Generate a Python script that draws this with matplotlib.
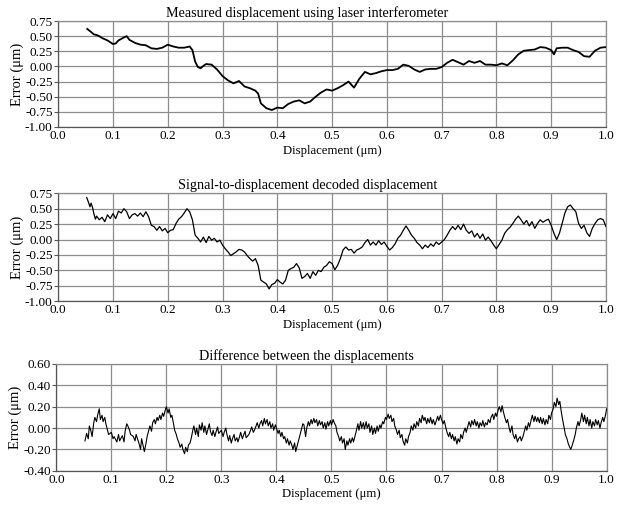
import matplotlib
matplotlib.use("Agg")
import matplotlib.pyplot as plt
import numpy as np

plt.rcParams['font.family'] = ['Liberation Serif', 'DejaVu Serif']

# --> Measured displacement (laser interferometer)
meas_x = [0.053, 0.06, 0.065, 0.07, 0.075, 0.08, 0.09, 0.1, 0.105, 0.11, 0.12, 0.125, 0.13,
          0.14, 0.15, 0.16, 0.17, 0.18, 0.19, 0.2, 0.21, 0.22, 0.23, 0.24, 0.245, 0.25, 0.255,
          0.26, 0.265, 0.27, 0.28, 0.29, 0.3, 0.31, 0.32, 0.33, 0.34, 0.35, 0.36, 0.365, 0.37,
          0.38, 0.39, 0.4, 0.41, 0.42, 0.43, 0.44, 0.45, 0.46, 0.47, 0.48, 0.49, 0.5, 0.51,
          0.52, 0.53, 0.54, 0.55, 0.56, 0.57, 0.58, 0.59, 0.6, 0.61, 0.62, 0.63, 0.64, 0.65,
          0.66, 0.67, 0.68, 0.69, 0.7, 0.71, 0.72, 0.73, 0.74, 0.75, 0.76, 0.77, 0.78, 0.79,
          0.8, 0.81, 0.82, 0.83, 0.84, 0.85, 0.86, 0.87, 0.88, 0.89, 0.9, 0.905, 0.91, 0.92,
          0.93, 0.94, 0.95, 0.96, 0.97, 0.98, 0.99, 1.0]
meas_y = [0.62, 0.57, 0.53, 0.52, 0.50, 0.47, 0.43, 0.37, 0.38, 0.43, 0.48, 0.50, 0.44,
          0.39, 0.36, 0.35, 0.30, 0.29, 0.31, 0.36, 0.33, 0.31, 0.31, 0.33, 0.27, 0.08, -0.01,
          -0.03, 0.01, 0.04, 0.03, -0.05, -0.16, -0.23, -0.28, -0.24, -0.33, -0.36, -0.40, -0.45, -0.61,
          -0.69, -0.72, -0.68, -0.69, -0.62, -0.58, -0.56, -0.61, -0.58, -0.50, -0.43, -0.38, -0.40, -0.36,
          -0.31, -0.25, -0.35, -0.20, -0.09, -0.13, -0.11, -0.08, -0.06, -0.06, -0.04, 0.03, 0.01, -0.05,
          -0.09, -0.05, -0.04, -0.04, -0.01, 0.06, 0.11, 0.07, 0.03, 0.09, 0.06, 0.09, 0.03, 0.03,
          0.02, 0.05, 0.02, 0.10, 0.20, 0.26, 0.27, 0.28, 0.32, 0.31, 0.27, 0.20, 0.30, 0.31,
          0.31, 0.27, 0.24, 0.17, 0.16, 0.26, 0.31, 0.32]

# --> Signal-to-displacement decoded displacement
dec_x = [0.052, 0.055, 0.058, 0.06, 0.063, 0.065, 0.068, 0.07, 0.075, 0.08, 0.085, 0.09, 0.095,
         0.1, 0.105, 0.11, 0.115, 0.12, 0.125, 0.13, 0.135, 0.14, 0.145, 0.15, 0.155, 0.16,
         0.165, 0.17, 0.175, 0.18, 0.185, 0.19, 0.195, 0.2, 0.205, 0.21, 0.215, 0.22, 0.225,
         0.23, 0.235, 0.24, 0.245, 0.25, 0.255, 0.26, 0.265, 0.27, 0.275, 0.28, 0.285, 0.29,
         0.295, 0.3, 0.305, 0.31, 0.315, 0.32, 0.325, 0.33, 0.335, 0.34, 0.345, 0.35, 0.355,
         0.36, 0.365, 0.37, 0.375, 0.38, 0.385, 0.39, 0.395, 0.4, 0.405, 0.41, 0.415, 0.42,
         0.425, 0.43, 0.435, 0.44, 0.445, 0.45, 0.455, 0.46, 0.465, 0.47, 0.475, 0.48, 0.485,
         0.49, 0.495, 0.5, 0.505, 0.51, 0.515, 0.52, 0.525, 0.53, 0.535, 0.54, 0.545, 0.55,
         0.555, 0.56, 0.565, 0.57, 0.575, 0.58, 0.585, 0.59, 0.595, 0.6, 0.605, 0.61, 0.615,
         0.62, 0.625, 0.63, 0.635, 0.64, 0.645, 0.65, 0.655, 0.66, 0.665, 0.67, 0.675, 0.68,
         0.685, 0.69, 0.695, 0.7, 0.705, 0.71, 0.715, 0.72, 0.725, 0.73, 0.735, 0.74, 0.745,
         0.75, 0.755, 0.76, 0.765, 0.77, 0.775, 0.78, 0.785, 0.79, 0.795, 0.8, 0.805, 0.81,
         0.815, 0.82, 0.825, 0.83, 0.835, 0.84, 0.845, 0.85, 0.855, 0.86, 0.865, 0.87, 0.875,
         0.88, 0.885, 0.89, 0.895, 0.9, 0.905, 0.91, 0.915, 0.92, 0.925, 0.93, 0.935, 0.94,
         0.945, 0.95, 0.955, 0.96, 0.965, 0.97, 0.975, 0.98, 0.985, 0.99, 0.995, 1.0]
dec_y = [0.68, 0.61, 0.53, 0.59, 0.51, 0.42, 0.33, 0.38, 0.32, 0.36, 0.29, 0.40, 0.34,
         0.42, 0.34, 0.46, 0.43, 0.50, 0.45, 0.34, 0.40, 0.42, 0.38, 0.43, 0.37, 0.45,
         0.37, 0.23, 0.21, 0.15, 0.21, 0.14, 0.18, 0.11, 0.15, 0.16, 0.26, 0.33, 0.37,
         0.43, 0.50, 0.45, 0.32, 0.07, 0.02, -0.04, 0.04, -0.05, 0.05, -0.01, 0.02, -0.04,
         -0.01, -0.09, -0.15, -0.20, -0.26, -0.23, -0.20, -0.16, -0.17, -0.20, -0.26, -0.31, -0.35,
         -0.31, -0.42, -0.66, -0.69, -0.72, -0.80, -0.73, -0.71, -0.65, -0.69, -0.72, -0.66, -0.50,
         -0.47, -0.45, -0.39, -0.46, -0.63, -0.60, -0.55, -0.63, -0.52, -0.58, -0.50, -0.52, -0.45,
         -0.42, -0.36, -0.39, -0.49, -0.42, -0.31, -0.17, -0.12, -0.17, -0.16, -0.22, -0.17, -0.15,
         -0.12, -0.05, 0.00, -0.09, -0.04, -0.09, -0.02, -0.08, -0.04, -0.11, -0.17, -0.13, -0.07,
         0.02, 0.07, 0.15, 0.22, 0.15, 0.07, 0.02, -0.05, -0.09, -0.15, -0.09, -0.13, -0.07,
         -0.11, -0.04, -0.08, -0.04, 0.00, 0.07, 0.15, 0.21, 0.16, 0.23, 0.16, 0.25, 0.15,
         0.10, 0.14, 0.04, 0.10, 0.02, 0.09, -0.01, 0.04, -0.02, -0.09, -0.15, -0.08, -0.01,
         0.10, 0.16, 0.20, 0.26, 0.33, 0.38, 0.32, 0.25, 0.31, 0.22, 0.29, 0.18, 0.26,
         0.32, 0.28, 0.31, 0.33, 0.23, 0.10, 0.00, 0.10, 0.26, 0.43, 0.53, 0.56, 0.50,
         0.45, 0.26, 0.18, 0.23, 0.11, 0.05, 0.18, 0.26, 0.32, 0.34, 0.32, 0.21]

# --> Difference between the displacements
diff_x = [0.052, 0.055, 0.058, 0.06, 0.063, 0.065, 0.068, 0.07, 0.073, 0.075, 0.078, 0.08,
          0.083, 0.085, 0.088, 0.09, 0.093, 0.095, 0.1, 0.103, 0.105, 0.11, 0.113, 0.115,
          0.12, 0.123, 0.125, 0.128, 0.13, 0.133, 0.135, 0.14, 0.143, 0.145, 0.15, 0.153,
          0.155, 0.158, 0.16, 0.163, 0.165, 0.168, 0.17, 0.173, 0.175, 0.178, 0.18, 0.183,
          0.185, 0.188, 0.19, 0.193, 0.195, 0.198, 0.2, 0.203, 0.205, 0.208, 0.21, 0.213,
          0.215, 0.218, 0.22, 0.223, 0.225, 0.228, 0.23, 0.233, 0.235, 0.238, 0.24, 0.243,
          0.245, 0.248, 0.25, 0.253, 0.255, 0.258, 0.26, 0.263, 0.265, 0.268, 0.27, 0.273,
          0.275, 0.278, 0.28, 0.283, 0.285, 0.288, 0.29, 0.293, 0.295, 0.3, 0.303, 0.305,
          0.308, 0.31, 0.313, 0.315, 0.318, 0.32, 0.323, 0.325, 0.328, 0.33, 0.333, 0.335,
          0.338, 0.34, 0.343, 0.345, 0.35, 0.353, 0.355, 0.358, 0.36, 0.363, 0.365, 0.368,
          0.37, 0.373, 0.375, 0.378, 0.38, 0.383, 0.385, 0.388, 0.39, 0.393, 0.395, 0.398,
          0.4, 0.403, 0.405, 0.408, 0.41, 0.413, 0.415, 0.418, 0.42, 0.423, 0.425, 0.428,
          0.43, 0.433, 0.435, 0.438, 0.44, 0.443, 0.445, 0.448, 0.45, 0.453, 0.455, 0.458,
          0.46, 0.463, 0.465, 0.468, 0.47, 0.473, 0.475, 0.478, 0.48, 0.483, 0.485, 0.488,
          0.49, 0.493, 0.495, 0.498, 0.5, 0.503, 0.505, 0.508, 0.51, 0.513, 0.515, 0.518,
          0.52, 0.523, 0.525, 0.528, 0.53, 0.533, 0.535, 0.538, 0.54, 0.543, 0.545, 0.548,
          0.55, 0.553, 0.555, 0.558, 0.56, 0.563, 0.565, 0.568, 0.57, 0.573, 0.575, 0.578,
          0.58, 0.583, 0.585, 0.588, 0.59, 0.593, 0.595, 0.598, 0.6, 0.603, 0.605, 0.608,
          0.61, 0.613, 0.615, 0.618, 0.62, 0.623, 0.625, 0.628, 0.63, 0.633, 0.635, 0.638,
          0.64, 0.643, 0.645, 0.648, 0.65, 0.653, 0.655, 0.658, 0.66, 0.663, 0.665, 0.668,
          0.67, 0.673, 0.675, 0.678, 0.68, 0.683, 0.685, 0.688, 0.69, 0.693, 0.695, 0.698,
          0.7, 0.703, 0.705, 0.708, 0.71, 0.713, 0.715, 0.718, 0.72, 0.723, 0.725, 0.728,
          0.73, 0.733, 0.735, 0.738, 0.74, 0.743, 0.745, 0.748, 0.75, 0.753, 0.755, 0.758,
          0.76, 0.763, 0.765, 0.768, 0.77, 0.773, 0.775, 0.778, 0.78, 0.783, 0.785, 0.788,
          0.79, 0.793, 0.795, 0.798, 0.8, 0.803, 0.805, 0.808, 0.81, 0.813, 0.815, 0.818,
          0.82, 0.823, 0.825, 0.828, 0.83, 0.833, 0.835, 0.838, 0.84, 0.843, 0.845, 0.848,
          0.85, 0.853, 0.855, 0.858, 0.86, 0.863, 0.865, 0.868, 0.87, 0.873, 0.875, 0.878,
          0.88, 0.883, 0.885, 0.888, 0.89, 0.893, 0.895, 0.898, 0.9, 0.903, 0.905, 0.908,
          0.91, 0.913, 0.915, 0.918, 0.92, 0.923, 0.925, 0.928, 0.93, 0.933, 0.935, 0.938,
          0.94, 0.943, 0.945, 0.948, 0.95, 0.953, 0.955, 0.958, 0.96, 0.963, 0.965, 0.968,
          0.97, 0.973, 0.975, 0.978, 0.98, 0.983, 0.985, 0.988, 0.99, 0.993, 0.995, 0.998, 1.0]
diff_y = [-0.12, -0.05, -0.10, 0.02, -0.03, -0.08, 0.05, 0.10, 0.06, 0.12, 0.18, 0.08,
          0.12, 0.06, 0.10, 0.04, -0.02, -0.06, -0.04, -0.10, -0.08, -0.13, -0.06, -0.12,
          -0.07, -0.13, -0.03, 0.04, 0.02, -0.02, -0.06, -0.08, -0.12, -0.06, -0.14, -0.20,
          -0.10, -0.17, -0.22, -0.14, -0.08, -0.02, 0.02, -0.03, 0.05, 0.08, 0.04, 0.10,
          0.07, 0.12, 0.08, 0.14, 0.11, 0.17, 0.20, 0.14, 0.18, 0.10, 0.12, 0.04,
          -0.02, -0.06, -0.10, -0.14, -0.18, -0.15, -0.20, -0.24, -0.18, -0.22, -0.16, -0.14,
          -0.10, -0.02, 0.02, -0.06, 0.00, -0.08, 0.03, -0.02, 0.05, -0.04, 0.02, -0.06,
          -0.02, 0.04, -0.03, -0.07, -0.02, -0.08, -0.04, 0.01, -0.05, -0.02, -0.08, -0.04,
          0.00, -0.06, -0.12, -0.07, -0.14, -0.10, -0.06, -0.12, -0.09, -0.13, -0.08, -0.04,
          -0.10, -0.07, -0.03, -0.09, -0.06, -0.02, 0.01, -0.04, -0.02, 0.02, 0.05, 0.00,
          0.04, 0.07, 0.02, 0.09, 0.04, 0.08, 0.02, 0.06, 0.00, 0.04, -0.02, 0.03,
          0.00, -0.05, -0.02, -0.08, -0.04, -0.10, -0.08, -0.14, -0.10, -0.16, -0.12, -0.16,
          -0.20, -0.14, -0.22, -0.16, -0.12, -0.06, -0.02, 0.04, 0.03, -0.08, 0.00, 0.06,
          0.02, 0.08, 0.04, 0.09, 0.05, 0.08, 0.02, 0.07, 0.03, 0.06, 0.00, 0.05,
          -0.01, 0.06, 0.02, 0.07, 0.03, 0.08, 0.05, 0.02, -0.04, -0.08, -0.12, -0.08,
          -0.14, -0.10, -0.20, -0.12, -0.16, -0.10, -0.14, -0.09, -0.13, -0.07, -0.03, 0.04,
          -0.02, 0.06, 0.00, 0.05, -0.01, 0.06, 0.00, 0.04, -0.04, 0.02, -0.06, 0.00,
          -0.05, 0.02, -0.03, 0.03, 0.00, 0.06, 0.04, 0.10, 0.08, 0.13, 0.09, 0.12,
          0.06, 0.09, 0.02, -0.02, -0.06, -0.02, -0.09, -0.06, -0.12, -0.16, -0.10, -0.14,
          -0.08, -0.04, 0.02, -0.02, 0.04, 0.00, 0.06, 0.02, 0.09, 0.05, 0.12, 0.07,
          0.10, 0.04, 0.09, 0.05, 0.10, 0.04, 0.08, 0.03, 0.06, 0.11, 0.07, 0.12,
          0.08, 0.04, 0.07, 0.00, -0.04, -0.08, -0.04, -0.10, -0.06, -0.12, -0.08, -0.15,
          -0.10, -0.13, -0.06, -0.10, -0.04, 0.00, -0.04, 0.02, 0.06, 0.01, 0.07, 0.03,
          0.08, 0.02, 0.06, 0.00, 0.05, 0.02, 0.07, 0.01, 0.05, 0.03, 0.08, 0.05,
          0.10, 0.13, 0.08, 0.14, 0.11, 0.17, 0.20, 0.15, 0.21, 0.14, 0.10, 0.05,
          0.08, 0.00, -0.04, 0.02, -0.06, -0.10, -0.06, -0.13, -0.10, -0.08, -0.12, -0.08,
          -0.04, 0.02, -0.02, 0.05, 0.01, 0.08, 0.12, 0.06, 0.11, 0.06, 0.10, 0.05,
          0.10, 0.04, 0.09, 0.03, 0.08, 0.04, 0.12, 0.08, 0.14, 0.18, 0.24, 0.20,
          0.28, 0.22, 0.25, 0.14, 0.08, 0.00, -0.06, -0.10, -0.14, -0.18, -0.20, -0.15,
          -0.12, -0.06, 0.00, 0.06, 0.02, 0.08, 0.14, 0.06, 0.12, 0.04, 0.10, 0.02,
          0.08, 0.00, 0.06, 0.02, 0.08, 0.03, 0.07, 0.00, 0.05, 0.10, 0.06, 0.12, 0.18]

x_ticks = [0.0, 0.1, 0.2, 0.3, 0.4, 0.5, 0.6, 0.7, 0.8, 0.9, 1.0]
err_ticks = [-1.00, -0.75, -0.50, -0.25, 0.00, 0.25, 0.50, 0.75]
diff_ticks = [-0.40, -0.20, 0.00, 0.20, 0.40, 0.60]

titles = ["Measured displacement using laser interferometer",
          "Signal-to-displacement decoded displacement",
          "Difference between the displacements"]

fig = plt.figure(figsize=(6.26, 5.14), dpi=100)
boxes = [[0.093, 0.753, 0.875, 0.206],
         [0.093, 0.414, 0.875, 0.210],
         [0.090, 0.084, 0.879, 0.208]]

series = [(meas_x, meas_y, err_ticks, 1.3),
          (dec_x, dec_y, err_ticks, 0.9),
          (diff_x, diff_y, diff_ticks, 0.8)]

for box, (xs, ys, yt, lw), title in zip(boxes, series, titles):
    ax = fig.add_axes(box)
    ax.plot(xs, ys, color='black', lw=lw, zorder=3)
    ax.set_xlim(0, 1.0)
    ax.set_ylim(yt[0], yt[-1])
    ax.set_xticks(x_ticks)
    ax.set_xticklabels(["%.1f" % t for t in x_ticks])
    ax.set_yticks(yt)
    ax.set_yticklabels(["%.2f" % t for t in yt])
    ax.grid(True, color='#8c8c8c', lw=0.9)
    for s in ['top', 'right']:
        ax.spines[s].set_color('#8c8c8c')
        ax.spines[s].set_linewidth(0.9)
    for s in ['left', 'bottom']:
        ax.spines[s].set_color('#555555')
        ax.spines[s].set_linewidth(0.9)
    ax.tick_params(axis='y', length=3, width=0.8, color='#555555', labelsize=9.5, pad=1)
    ax.tick_params(axis='x', length=0, labelsize=9.5, pad=2)
    # titles sit a little left of the axes centre in the original
    ax.set_title(title, fontsize=10.2, pad=3, x=0.455)
    ax.set_xlabel("Displacement (μm)", fontsize=9.2, labelpad=2)
    ax.set_ylabel("Error (μm)", fontsize=10.5, labelpad=1)

fig.savefig("out.png", dpi=100)
